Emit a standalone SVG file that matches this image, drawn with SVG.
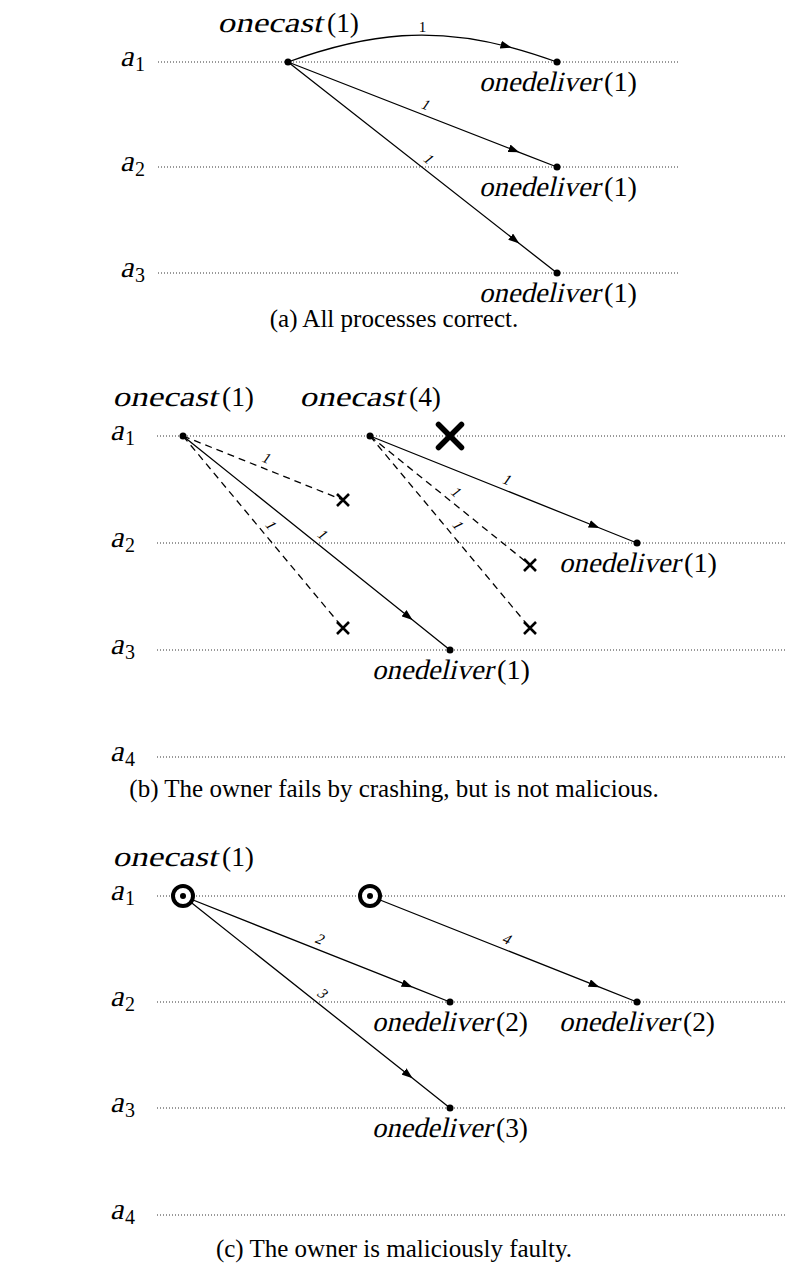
<svg xmlns="http://www.w3.org/2000/svg" width="785" height="1274" viewBox="0 0 785 1274">
<style>
.tl{stroke:#333;stroke-width:1;stroke-dasharray:1 2;fill:none}
.msg{stroke:#000;stroke-width:1.3;fill:none}
.dash{stroke:#000;stroke-width:1.3;fill:none;stroke-dasharray:7 5}
.arr{marker-mid:url(#ah)}
.dot{fill:#000}
.t{font-family:"Liberation Serif","Times New Roman",serif;fill:#000}
.big{font-size:28px}
.pa{font-size:30px}
.sub{font-size:20px}
.num{font-size:15px}
.cap{font-size:25px}
.xs{stroke:#000;stroke-width:2.6;fill:none}
.xb{stroke:#000;stroke-width:5.5;stroke-linecap:round;fill:none}
.ring{stroke:#000;stroke-width:4;fill:#fff}
</style>
<defs>
<marker id="ah" viewBox="0 0 11 8" refX="11" refY="4" markerWidth="11" markerHeight="8" orient="auto" markerUnits="userSpaceOnUse"><path d="M0,0 L11,4 L0,8 z" fill="#000"/></marker>
</defs>

<!-- ===== Panel (a) ===== -->
<g id="a-timelines">
<line class="tl" x1="158" y1="62" x2="680" y2="62"/>
<line class="tl" x1="158" y1="167" x2="680" y2="167"/>
<line class="tl" x1="158" y1="273" x2="680" y2="273"/>
<text class="t pa" transform="translate(120,66) skewX(-13)">a</text><text class="t sub" x="135" y="71">1</text>
<text class="t pa" transform="translate(120,171) skewX(-13)">a</text><text class="t sub" x="135" y="176">2</text>
<text class="t pa" transform="translate(120,277) skewX(-13)">a</text><text class="t sub" x="135" y="282">3</text>
</g>
<g id="a-connectors">
<path class="msg arr" d="M288,62 C370.9,31.84 434.69,27.02 511.48,47.52 C526.11,51.43 541.21,56.26 557,62"/>
<path class="msg arr" d="M288,62 L519.3,152.3 L557,167"/>
<path class="msg arr" d="M288,62 L519.3,243.5 L557,273"/>
<text class="t num" x="422.5" y="32" text-anchor="middle">1</text>
<text class="t num" text-anchor="middle" dominant-baseline="central" transform="translate(426.5,104.3) rotate(21.32) skewX(-13)">1</text>
<text class="t num" text-anchor="middle" dominant-baseline="central" transform="translate(429.3,158.9) rotate(38.11) skewX(-13)">1</text>
</g>
<g id="a-src">
<circle class="dot" cx="288" cy="62" r="3.5"/>
<text class="t big" transform="translate(217.5,32) skewX(-13)" textLength="105" lengthAdjust="spacingAndGlyphs">onecast</text><text class="t big" x="327" y="32" textLength="32" lengthAdjust="spacingAndGlyphs">(1)</text>
</g>
<g id="a-d1">
<circle class="dot" cx="557" cy="62" r="3.5"/>
<text class="t big" transform="translate(479,91) skewX(-13)" textLength="121" lengthAdjust="spacingAndGlyphs">onedeliver</text><text class="t big" x="604" y="91" textLength="33" lengthAdjust="spacingAndGlyphs">(1)</text>
</g>
<g id="a-d2">
<circle class="dot" cx="557" cy="167" r="3.5"/>
<text class="t big" transform="translate(479,196) skewX(-13)" textLength="121" lengthAdjust="spacingAndGlyphs">onedeliver</text><text class="t big" x="604" y="196" textLength="33" lengthAdjust="spacingAndGlyphs">(1)</text>
</g>
<g id="a-d3">
<circle class="dot" cx="557" cy="273" r="3.5"/>
<text class="t big" transform="translate(479,302) skewX(-13)" textLength="121" lengthAdjust="spacingAndGlyphs">onedeliver</text><text class="t big" x="604" y="302" textLength="33" lengthAdjust="spacingAndGlyphs">(1)</text>
</g>
<text id="cap-a" class="t cap" x="394" y="327" text-anchor="middle">(a) All processes correct.</text>

<!-- ===== Panel (b) ===== -->
<g id="b-timelines">
<line class="tl" x1="157" y1="436" x2="785" y2="436"/>
<line class="tl" x1="157" y1="543" x2="785" y2="543"/>
<line class="tl" x1="157" y1="650" x2="785" y2="650"/>
<line class="tl" x1="157" y1="757" x2="785" y2="757"/>
<text class="t pa" transform="translate(110,440) skewX(-13)">a</text><text class="t sub" x="125" y="445">1</text>
<text class="t pa" transform="translate(110,547) skewX(-13)">a</text><text class="t sub" x="125" y="552">2</text>
<text class="t pa" transform="translate(110,654) skewX(-13)">a</text><text class="t sub" x="125" y="659">3</text>
<text class="t pa" transform="translate(110,761) skewX(-13)">a</text><text class="t sub" x="125" y="766">4</text>
</g>
<g id="b-connectors">
<line class="dash" x1="183" y1="436" x2="343" y2="500"/>
<line class="dash" x1="183" y1="436" x2="343" y2="628"/>
<line class="dash" x1="370" y1="436" x2="530" y2="565"/>
<line class="dash" x1="370" y1="436" x2="530" y2="628"/>
<path class="msg arr" d="M183,436 L412.6,620 L450,650"/>
<path class="msg arr" d="M370,436 L599.6,528 L637,543"/>
<text class="t num" text-anchor="middle" dominant-baseline="central" transform="translate(267.1,457.8) rotate(21.8) skewX(-13)">1</text>
<text class="t num" text-anchor="middle" dominant-baseline="central" transform="translate(271.5,525) rotate(50.19) skewX(-13)">1</text>
<text class="t num" text-anchor="middle" dominant-baseline="central" transform="translate(323.4,534.4) rotate(38.71) skewX(-13)">1</text>
<text class="t num" text-anchor="middle" dominant-baseline="central" transform="translate(507.6,479.3) rotate(21.84) skewX(-13)">1</text>
<text class="t num" text-anchor="middle" dominant-baseline="central" transform="translate(456.9,491.9) rotate(38.88) skewX(-13)">1</text>
<text class="t num" text-anchor="middle" dominant-baseline="central" transform="translate(458.5,525) rotate(50.19) skewX(-13)">1</text>
</g>
<g id="b-src1">
<circle class="dot" cx="183" cy="436" r="3.5"/>
<text class="t big" transform="translate(112.5,406) skewX(-13)" textLength="105" lengthAdjust="spacingAndGlyphs">onecast</text><text class="t big" x="222" y="406" textLength="32" lengthAdjust="spacingAndGlyphs">(1)</text>
</g>
<g id="b-src2">
<circle class="dot" cx="370" cy="436" r="3.5"/>
<text class="t big" transform="translate(299.5,406) skewX(-13)" textLength="105" lengthAdjust="spacingAndGlyphs">onecast</text><text class="t big" x="409" y="406" textLength="32" lengthAdjust="spacingAndGlyphs">(4)</text>
</g>
<g id="b-crash">
<path class="xb" d="M438.5,424.5 L461.5,447.5 M461.5,424.5 L438.5,447.5"/>
</g>
<g id="b-x1"><path class="xs" d="M337,494 L349,506 M349,494 L337,506"/></g>
<g id="b-x2"><path class="xs" d="M337,622 L349,634 M349,622 L337,634"/></g>
<g id="b-x3"><path class="xs" d="M524,559 L536,571 M536,559 L524,571"/></g>
<g id="b-x4"><path class="xs" d="M524,622 L536,634 M536,622 L524,634"/></g>
<g id="b-d1">
<circle class="dot" cx="450" cy="650" r="3.5"/>
<text class="t big" transform="translate(372,679) skewX(-13)" textLength="121" lengthAdjust="spacingAndGlyphs">onedeliver</text><text class="t big" x="497" y="679" textLength="33" lengthAdjust="spacingAndGlyphs">(1)</text>
</g>
<g id="b-d2">
<circle class="dot" cx="637" cy="543" r="3.5"/>
<text class="t big" transform="translate(559,572) skewX(-13)" textLength="121" lengthAdjust="spacingAndGlyphs">onedeliver</text><text class="t big" x="684" y="572" textLength="33" lengthAdjust="spacingAndGlyphs">(1)</text>
</g>
<text id="cap-b" class="t cap" x="394" y="797" text-anchor="middle">(b) The owner fails by crashing, but is not malicious.</text>

<!-- ===== Panel (c) ===== -->
<g id="c-timelines">
<line class="tl" x1="157" y1="896" x2="785" y2="896"/>
<line class="tl" x1="157" y1="1002" x2="785" y2="1002"/>
<line class="tl" x1="157" y1="1108" x2="785" y2="1108"/>
<line class="tl" x1="157" y1="1215" x2="785" y2="1215"/>
<text class="t pa" transform="translate(110,900) skewX(-13)">a</text><text class="t sub" x="125" y="905">1</text>
<text class="t pa" transform="translate(110,1006) skewX(-13)">a</text><text class="t sub" x="125" y="1011">2</text>
<text class="t pa" transform="translate(110,1112) skewX(-13)">a</text><text class="t sub" x="125" y="1117">3</text>
<text class="t pa" transform="translate(110,1219) skewX(-13)">a</text><text class="t sub" x="125" y="1224">4</text>
</g>
<g id="c-connectors">
<path class="msg arr" d="M183,896 L412.6,987.2 L450,1002"/>
<path class="msg arr" d="M183,896 L412.6,1078.3 L450,1108"/>
<path class="msg arr" d="M370,896 L599.6,987.2 L637,1002"/>
<text class="t num" text-anchor="middle" dominant-baseline="central" transform="translate(320.6,938.8) rotate(21.65) skewX(-13)">2</text>
<text class="t num" text-anchor="middle" dominant-baseline="central" transform="translate(323.3,993.4) rotate(38.45) skewX(-13)">3</text>
<text class="t num" text-anchor="middle" dominant-baseline="central" transform="translate(507.6,938.8) rotate(21.65) skewX(-13)">4</text>
</g>
<g id="c-src1">
<circle class="ring" cx="183" cy="896" r="10"/>
<circle class="dot" cx="183" cy="896" r="3"/>
<text class="t big" transform="translate(112.5,866) skewX(-13)" textLength="105" lengthAdjust="spacingAndGlyphs">onecast</text><text class="t big" x="222" y="866" textLength="32" lengthAdjust="spacingAndGlyphs">(1)</text>
</g>
<g id="c-src2">
<circle class="ring" cx="370" cy="896" r="10"/>
<circle class="dot" cx="370" cy="896" r="3"/>
</g>
<g id="c-d1">
<circle class="dot" cx="450" cy="1002" r="3.5"/>
<text class="t big" transform="translate(372,1031) skewX(-13)" textLength="120" lengthAdjust="spacingAndGlyphs">onedeliver</text><text class="t big" x="496" y="1031" textLength="32" lengthAdjust="spacingAndGlyphs">(2)</text>
</g>
<g id="c-d2">
<circle class="dot" cx="637" cy="1002" r="3.5"/>
<text class="t big" transform="translate(559,1031) skewX(-13)" textLength="120" lengthAdjust="spacingAndGlyphs">onedeliver</text><text class="t big" x="683" y="1031" textLength="32" lengthAdjust="spacingAndGlyphs">(2)</text>
</g>
<g id="c-d3">
<circle class="dot" cx="450" cy="1108" r="3.5"/>
<text class="t big" transform="translate(372,1137) skewX(-13)" textLength="120" lengthAdjust="spacingAndGlyphs">onedeliver</text><text class="t big" x="496" y="1137" textLength="32" lengthAdjust="spacingAndGlyphs">(3)</text>
</g>
<text id="cap-c" class="t cap" x="394" y="1257" text-anchor="middle">(c) The owner is maliciously faulty.</text>
</svg>
